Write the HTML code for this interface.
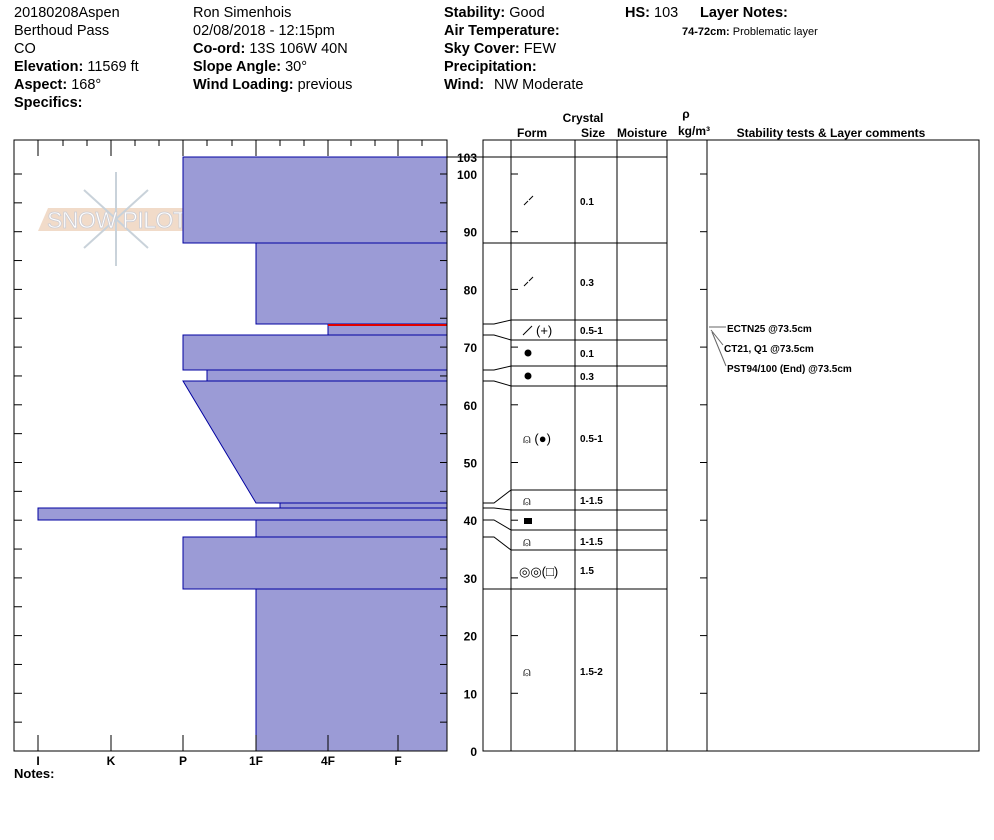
<!DOCTYPE html>
<html><head><style>
body{margin:0;background:#fff;width:994px;height:840px;overflow:hidden}
svg{display:block}
text{font-family:"Liberation Sans",Arial,sans-serif}
.h{font-size:14.5px}
</style></head><body>
<svg width="994" height="840" xmlns="http://www.w3.org/2000/svg">
<g class="h" fill="#000">
<text x="14" y="17">20180208Aspen</text>
<text x="14" y="35">Berthoud Pass</text>
<text x="14" y="53">CO</text>
<text x="14" y="71"><tspan font-weight="bold">Elevation:</tspan> 11569 ft</text>
<text x="14" y="89"><tspan font-weight="bold">Aspect:</tspan> 168°</text>
<text x="14" y="107" font-weight="bold">Specifics:</text>
<text x="193" y="17">Ron Simenhois</text>
<text x="193" y="35">02/08/2018 - 12:15pm</text>
<text x="193" y="53"><tspan font-weight="bold">Co-ord:</tspan> 13S 106W 40N</text>
<text x="193" y="71"><tspan font-weight="bold">Slope Angle:</tspan> 30°</text>
<text x="193" y="89"><tspan font-weight="bold">Wind Loading:</tspan> previous</text>
<text x="444" y="17"><tspan font-weight="bold">Stability:</tspan> Good</text>
<text x="444" y="35" font-weight="bold">Air Temperature:</text>
<text x="444" y="53"><tspan font-weight="bold">Sky Cover:</tspan> FEW</text>
<text x="444" y="71" font-weight="bold">Precipitation:</text>
<text x="444" y="89"><tspan font-weight="bold">Wind:</tspan><tspan x="494">NW Moderate</tspan></text>
<text x="625" y="17"><tspan font-weight="bold">HS:</tspan> 103</text>
<text x="700" y="17" font-weight="bold">Layer Notes:</text>
</g>
<text x="682" y="35" font-size="11"><tspan font-weight="bold">74-72cm:</tspan> Problematic layer</text>
<g font-size="12" font-weight="bold" text-anchor="middle">
<text x="583" y="122">Crystal</text>
<text x="532" y="137">Form</text>
<text x="593" y="137">Size</text>
<text x="642" y="137">Moisture</text>
<text x="686" y="118">ρ</text>
<text x="694" y="135">kg/m³</text>
<text x="831" y="137">Stability tests &amp; Layer comments</text>
</g>
<g opacity="0.9">
<polygon points="48,208 196,208 186,231 38,231" fill="#f0d8c4"/>
<g stroke="#c4ced6" stroke-width="2" fill="none">
<line x1="116" y1="172" x2="116" y2="266"/>
<line x1="84" y1="190" x2="148" y2="248"/>
<line x1="148" y1="190" x2="84" y2="248"/>
</g>
<text x="117" y="228" text-anchor="middle" font-size="23" textLength="140" fill="#fff" stroke="#c8c8d0" stroke-width="0.8">SNOW PILOT</text>
</g>
<g fill="#9b9bd6" stroke="#0000a0" stroke-width="1">
<rect x="183" y="157" width="264" height="86"/>
<rect x="256" y="243" width="191" height="81"/>
<rect x="328" y="324" width="119" height="11"/>
<rect x="183" y="335" width="264" height="35"/>
<rect x="207" y="370" width="240" height="11"/>
<polygon points="183,381 447,381 447,503 256,503"/>
<rect x="280" y="503" width="167" height="5"/>
<rect x="38" y="508" width="409" height="12"/>
<rect x="256" y="520" width="191" height="17"/>
<rect x="183" y="537" width="264" height="52"/>
<rect x="256" y="589" width="191" height="162"/>
</g>
<line x1="328" y1="325" x2="447" y2="325" stroke="#e00000" stroke-width="2"/>
<rect x="14" y="140" width="433" height="611" fill="none" stroke="#000"/>
<g stroke="#000">
<line x1="38" y1="140" x2="38" y2="156"/><line x1="111" y1="140" x2="111" y2="156"/><line x1="183" y1="140" x2="183" y2="156"/><line x1="256" y1="140" x2="256" y2="156"/><line x1="328" y1="140" x2="328" y2="156"/><line x1="398" y1="140" x2="398" y2="156"/>
<line x1="63" y1="140" x2="63" y2="146"/><line x1="87" y1="140" x2="87" y2="146"/><line x1="135" y1="140" x2="135" y2="146"/><line x1="159" y1="140" x2="159" y2="146"/><line x1="207" y1="140" x2="207" y2="146"/><line x1="232" y1="140" x2="232" y2="146"/><line x1="280" y1="140" x2="280" y2="146"/><line x1="304" y1="140" x2="304" y2="146"/><line x1="351" y1="140" x2="351" y2="146"/><line x1="375" y1="140" x2="375" y2="146"/><line x1="422" y1="140" x2="422" y2="146"/>
<line x1="38" y1="751" x2="38" y2="735"/><line x1="111" y1="751" x2="111" y2="735"/><line x1="183" y1="751" x2="183" y2="735"/><line x1="256" y1="751" x2="256" y2="735"/><line x1="328" y1="751" x2="328" y2="735"/><line x1="398" y1="751" x2="398" y2="735"/>
</g>
<g id="lt" stroke="#000"></g>
<g font-size="12" font-weight="bold" text-anchor="middle">
<text x="38" y="765">I</text><text x="111" y="765">K</text><text x="183" y="765">P</text><text x="256" y="765">1F</text><text x="328" y="765">4F</text><text x="398" y="765">F</text>
</g>
<text x="14" y="778" font-size="13" font-weight="bold">Notes:</text>
<rect x="483" y="140" width="496" height="611" fill="none" stroke="#000"/>
<g stroke="#000" fill="none">
<line x1="511" y1="140" x2="511" y2="751"/><line x1="575" y1="140" x2="575" y2="751"/><line x1="617" y1="140" x2="617" y2="751"/><line x1="667" y1="140" x2="667" y2="751"/><line x1="707" y1="140" x2="707" y2="751"/>
<line x1="483" y1="157" x2="667" y2="157"/>
<line x1="511" y1="243" x2="667" y2="243"/>
<line x1="511" y1="320" x2="667" y2="320"/>
<line x1="511" y1="340" x2="667" y2="340"/>
<line x1="511" y1="366" x2="667" y2="366"/>
<line x1="511" y1="386" x2="667" y2="386"/>
<line x1="511" y1="490" x2="667" y2="490"/>
<line x1="511" y1="510" x2="667" y2="510"/>
<line x1="511" y1="530" x2="667" y2="530"/>
<line x1="511" y1="550" x2="667" y2="550"/>
<line x1="511" y1="589" x2="667" y2="589"/>
<polyline points="483,243 511,243"/>
<polyline points="483,324 494,324 511,320"/>
<polyline points="483,335 494,335 511,340"/>
<polyline points="483,370 494,370 511,366"/>
<polyline points="483,381 494,381 511,386"/>
<polyline points="483,503 494,503 511,490"/>
<polyline points="483,508 494,508 511,510"/>
<polyline points="483,520 494,520 511,530"/>
<polyline points="483,537 494,537 511,550"/>
<polyline points="483,589 511,589"/>
</g>
<g id="rt" stroke="#000"></g>
<g font-size="10" font-weight="bold">
<text x="580" y="205">0.1</text><text x="580" y="286">0.3</text><text x="580" y="334">0.5-1</text><text x="580" y="357">0.1</text><text x="580" y="380">0.3</text><text x="580" y="442">0.5-1</text><text x="580" y="504">1-1.5</text><text x="580" y="545">1-1.5</text><text x="580" y="574">1.5</text><text x="580" y="675">1.5-2</text>
</g>
<g fill="#000" stroke="#000">
<line x1="524" y1="205" x2="528" y2="201"/><line x1="529" y1="200" x2="533" y2="196"/>
<line x1="524" y1="286" x2="528" y2="282"/><line x1="529" y1="281" x2="533" y2="277"/>
<line x1="523" y1="335" x2="532" y2="326"/>
</g>
<g font-size="13" fill="#000">
<text x="536" y="335">(+)</text>
<circle cx="528" cy="353" r="3.5"/>
<circle cx="528" cy="376" r="3.5"/>
<text x="523" y="443">⍝ (●)</text>
<text x="523" y="505">⍝</text>
<rect x="524" y="518" width="8" height="6"/>
<text x="523" y="546">⍝</text>
<text x="519" y="576">◎◎(□)</text>
<text x="523" y="676">⍝</text>
</g>
<g font-size="10" font-weight="bold">
<text x="727" y="332">ECTN25 @73.5cm</text>
<text x="724" y="352">CT21, Q1 @73.5cm</text>
<text x="727" y="372">PST94/100 (End) @73.5cm</text>
</g>
<g stroke="#666" fill="none">
<line x1="709" y1="327" x2="726" y2="327"/>
<line x1="711" y1="330" x2="723" y2="345"/>
<line x1="712" y1="332" x2="726" y2="366"/>
</g>
<g font-size="12" font-weight="bold" text-anchor="end" id="lab"></g>
</svg>
<script>
var ns="http://www.w3.org/2000/svg";
function y(c){return 751-c*5.77;}
var lt=document.getElementById('lt'),rt=document.getElementById('rt'),lab=document.getElementById('lab');
function L(g,x1,y1,x2,y2){var l=document.createElementNS(ns,'line');l.setAttribute('x1',x1);l.setAttribute('y1',y1);l.setAttribute('x2',x2);l.setAttribute('y2',y2);g.appendChild(l);}
for(var c=5;c<=100;c+=5){var yy=y(c);L(lt,14,yy,22,yy);L(lt,447,yy,440,yy);
if(c%10==0){L(rt,511,yy,518,yy);L(rt,707,yy,700,yy);}}
for(var c=0;c<=100;c+=10){var t=document.createElementNS(ns,'text');t.setAttribute('x',477);t.setAttribute('y',y(c)+5);t.textContent=c;lab.appendChild(t);}
var t=document.createElementNS(ns,'text');t.setAttribute('x',477);t.setAttribute('y',162);t.textContent='103';lab.appendChild(t);
L(lt,447,157,483,157);
</script>
</body></html>
